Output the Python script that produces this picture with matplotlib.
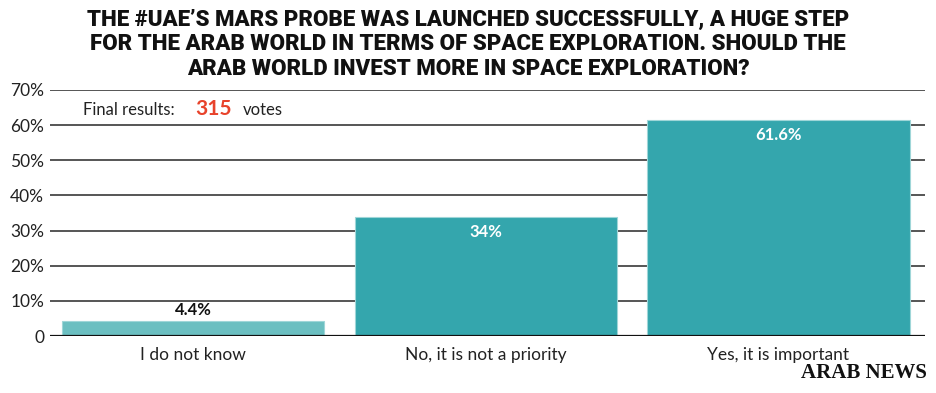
import matplotlib.pyplot as plt

# data
categories = ["I do not know", "No, it is not a priority", "Yes, it is important"]
values = [4.4, 34, 61.6]
value_labels = ["4.4%", "34%", "61.6%"]
yticks = [0, 10, 20, 30, 40, 50, 60, 70]
ytick_labels = ["0", "10%", "20%", "30%", "40%", "50%", "60%", "70%"]
votes = 315

title = ("THE #UAE\u2019S MARS PROBE WAS LAUNCHED SUCCESSFULLY, A HUGE STEP\n"
         "FOR THE ARAB WORLD IN TERMS OF SPACE EXPLORATION. SHOULD THE\n"
         "ARAB WORLD INVEST MORE IN SPACE EXPLORATION?")

bar_colors = ["#6bbfc1", "#34a6ad", "#34a6ad"]

fig = plt.figure(figsize=(9.36, 3.93), dpi=100)
ax = fig.add_axes([0.053, 0.145, 0.935, 0.626])

# gridlines
for t in yticks[1:]:
    ax.axhline(t, color="#555555", lw=1.4, zorder=1)
ax.axhline(0, color="#111111", lw=1.6, zorder=3)

x = range(len(categories))
ax.bar(x, values, width=0.896, color=bar_colors, edgecolor="#9fd6d8", lw=0.8, zorder=2)

for i, (v, lab) in enumerate(zip(values, value_labels)):
    if v < 10:
        ax.text(i, v + 0.6, lab, ha="center", va="bottom", fontsize=12,
                fontweight="bold", family="Lato", color="#111111", zorder=4)
    else:
        ax.text(i, v - 2.2, lab, ha="center", va="top", fontsize=12,
                fontweight="bold", family="Lato", color="white", zorder=4)

ax.set_xlim(-0.49, 2.5)
ax.set_ylim(0, 70)
ax.set_yticks(yticks)
ax.set_yticklabels(ytick_labels, family="Lato", fontsize=12.5, color="#222222")
ax.set_xticks(list(x))
ax.set_xticklabels(categories, family="Lato", fontsize=12.5, color="#222222")
ax.tick_params(length=0, pad=4)
ax.tick_params(axis="x", pad=8)
for s in ax.spines.values():
    s.set_visible(False)

# votes note
fig.text(0.089, 0.72, "Final results:", family="Lato", fontsize=12, color="#222222",
         va="center")
fig.text(0.209, 0.722, str(votes), family="Lato", fontsize=15, fontweight="bold",
         color="#e8432b", va="center")
fig.text(0.259, 0.72, "votes", family="Lato", fontsize=12, color="#222222", va="center")

# title
fig.text(0.5, 0.978, title, ha="center", va="top", fontsize=16, fontweight="black",
         family="Roboto", color="#111111", linespacing=1.15)

# logo
fig.text(0.99, 0.025, "ARAB NEWS", ha="right", va="bottom", fontsize=15,
         fontweight="bold", family="Liberation Serif", color="#111111")

plt.savefig("out.png", dpi=100)
